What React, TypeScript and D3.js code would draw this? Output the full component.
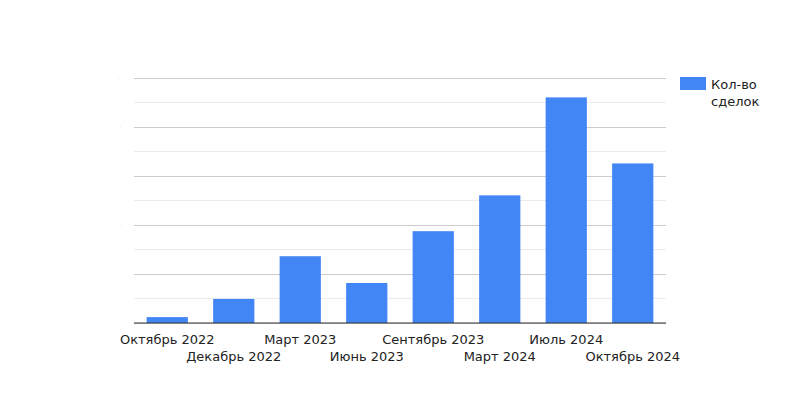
import React from "react";
import * as d3 from "d3";

const categories = [
  "Октябрь 2022",
  "Декабрь 2022",
  "Март 2023",
  "Июнь 2023",
  "Сентябрь 2023",
  "Март 2024",
  "Июль 2024",
  "Октябрь 2024",
];
const dealCounts = [0.24, 0.98, 2.72, 1.63, 3.74, 5.2, 9.19, 6.5];
const majorTicks = [0, 2, 4, 6, 8, 10];
const minorTicks = [1, 3, 5, 7, 9];
const seriesName = ["Кол-во", "сделок"];

export default function App() {
  const width = 800;
  const height = 400;
  const left = 134;
  const right = 666;
  const top = 77.5;
  const bottom = 323;

  const x = d3
    .scaleBand<string>()
    .domain(categories)
    .range([left, right])
    .paddingInner(0.38)
    .paddingOuter(0.19);
  const y = d3.scaleLinear().domain([0, 10]).range([bottom, top]);

  const font = "'DejaVu Sans', sans-serif";

  return (
    <svg
      width={width}
      height={height}
      style={{ position: "absolute", left: 0, top: 0, background: "#fff" }}
    >
      {minorTicks.map((t) => (
        <line
          key={"mi" + t}
          x1={left}
          x2={right}
          y1={Math.round(y(t)) + 0.5}
          y2={Math.round(y(t)) + 0.5}
          stroke="#ebebeb"
        />
      ))}
      {majorTicks.map((t) => (
        <line
          key={"ma" + t}
          x1={left}
          x2={right}
          y1={Math.round(y(t)) + 0.5}
          y2={Math.round(y(t)) + 0.5}
          stroke="#cccccc"
        />
      ))}
      {majorTicks.map((t) => (
        <text
          key={"yl" + t}
          x={121}
          y={y(t) + 1}
          fontSize={2}
          fill="#e0e0e0"
          textAnchor="end"
          fontFamily={font}
        >
          {t}
        </text>
      ))}
      {dealCounts.map((v, i) => (
        <rect
          key={"b" + i}
          x={x(categories[i])}
          y={y(v)}
          width={x.bandwidth()}
          height={y(0) - y(v)}
          fill="#4285f4"
        />
      ))}
      <line x1={left} x2={right} y1={bottom} y2={bottom} stroke="#333" strokeWidth={1} />
      {categories.map((c, i) => (
        <text
          key={"xl" + c}
          x={(x(c) as number) + x.bandwidth() / 2}
          y={i % 2 === 0 ? 344 : 361}
          fontSize={13}
          fill="#222"
          textAnchor="middle"
          fontFamily={font}
        >
          {c}
        </text>
      ))}
      <rect x={680} y={77} width={26} height={13} fill="#4285f4" />
      {seriesName.map((s, i) => (
        <text
          key={"lg" + i}
          x={711}
          y={88.5 + i * 17}
          fontSize={13}
          fill="#222"
          fontFamily={font}
        >
          {s}
        </text>
      ))}
    </svg>
  );
}
